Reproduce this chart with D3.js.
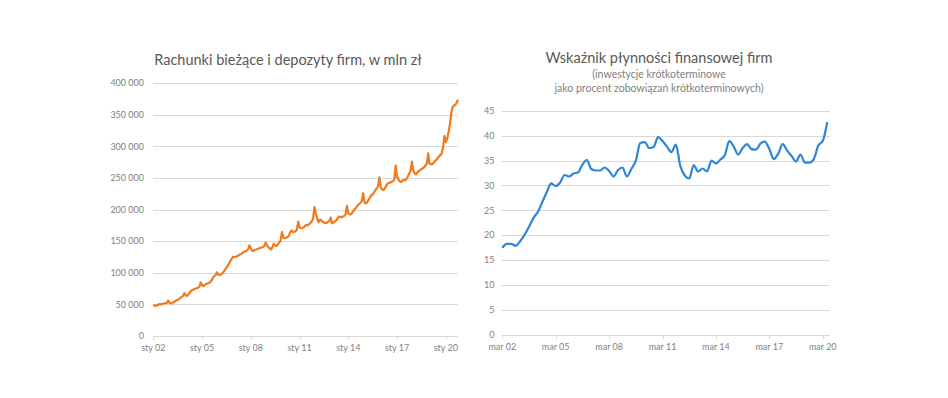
<!DOCTYPE html>
<meta charset="utf-8">
<style>

body {
  margin: 0;
  background: #fff;
}

text {
  font-family: Lato, "Liberation Sans", sans-serif;
}

.grid line {
  stroke: #d9d9d9;
  stroke-width: 1px;
}

.axis-label {
  fill: #7f7f7f;
  font-size: 9px;
}

.title {
  fill: #595959;
  font-size: 14.5px;
}

.subtitle {
  fill: #7f7f7f;
  font-size: 10.5px;
}

</style>
<body>
<script src="https://d3js.org/d3.v7.min.js"></script>
<script>

// Left chart: current accounts and deposits of firms, mln zł, monthly Jan 2002 - Oct 2020
var deposits = [
  49500, 48000, 47500, 49000, 50000, 50500, 50000, 51000, 51500, 52000, 52500, 56000,        // 2002
  52500, 51500, 52000, 53500, 55000, 56500, 57000, 58500, 60500, 62000, 63500, 68000,        // 2003
  64000, 63500, 66000, 69000, 71500, 73000, 74000, 75000, 75500, 76500, 78000, 85000,        // 2004
  80000, 79000, 81000, 82500, 83000, 84000, 85000, 88000, 92000, 95000, 96500, 101000,       // 2005
  97000, 96500, 97500, 99000, 102000, 105000, 108000, 111500, 115000, 119000, 122500, 125500, // 2006
  125000, 125500, 126500, 127500, 129000, 130000, 131500, 133000, 134000, 135000, 137000, 143500, // 2007
  139000, 135000, 134500, 136500, 137000, 138000, 138500, 139500, 140000, 141000, 142500, 148000, // 2008
  143500, 141000, 138500, 137000, 141000, 146000, 143000, 142500, 145000, 148500, 151000, 164500, // 2009
  156000, 155000, 155500, 156500, 158000, 164000, 167000, 164500, 165000, 166000, 168000, 181000, // 2010
  172000, 170500, 171000, 172000, 174000, 176000, 175000, 177000, 179000, 181000, 186000, 204000, // 2011
  194000, 186000, 180000, 183500, 184000, 180500, 180000, 178500, 179000, 181000, 182000, 187500, // 2012
  178500, 179500, 181500, 183000, 186000, 189000, 188500, 188000, 189000, 190000, 192500, 206000, // 2013
  194000, 192500, 193000, 195000, 199000, 201000, 204000, 207000, 209000, 211000, 214000, 226000, // 2014
  211000, 210000, 212000, 216000, 219000, 223000, 224000, 227000, 231000, 233500, 237000, 251000, // 2015
  235000, 232000, 231000, 234000, 238000, 241000, 242000, 243000, 244500, 245000, 247500, 270000, // 2016
  252000, 248000, 244500, 244000, 246000, 247000, 246500, 249000, 253000, 257000, 262000, 276000, // 2017
  262000, 257500, 256000, 259000, 261000, 262500, 264000, 265500, 267000, 270000, 273000, 289000, // 2018
  273000, 272000, 272000, 274000, 277000, 279000, 281500, 284000, 286500, 289000, 299000, 317000, // 2019
  307000, 312000, 322000, 335000, 352000, 362000, 365000, 366000, 369000, 374000                  // 2020
];
var depositTickMonths = [0, 36, 72, 108, 144, 180, 216];
var depositTickLabels = ["sty 02", "sty 05", "sty 08", "sty 11", "sty 14", "sty 17", "sty 20"];
var depositYTicks = [0, 50000, 100000, 150000, 200000, 250000, 300000, 350000, 400000];

// Right chart: liquidity ratio, quarterly Mar 2002 - Jun 2020
var liquidity = [
  17.5, 18.3, 18.3, 17.9, 18.8, 20.1, 21.7, 23.5, 24.7, 26.7,
  28.7, 30.4, 29.9, 30.6, 32.1, 31.8, 32.4, 32.6, 34.2, 35.1,
  33.3, 33.0, 33.0, 33.6, 32.9, 31.8, 33.1, 33.6, 31.8, 33.3,
  35.0, 38.5, 38.7, 37.5, 37.7, 39.7, 38.9, 37.8, 36.7, 38.2,
  33.9, 32.0, 31.4, 34.1, 32.8, 33.4, 32.8, 35.0, 34.4, 35.2,
  36.1, 38.9, 37.8, 36.2, 37.5, 38.3, 37.3, 37.2, 38.4, 38.8,
  37.3, 35.3, 36.4, 38.3, 37.0, 35.9, 34.8, 36.2, 34.6, 34.6,
  35.3, 38.0, 38.9, 42.7
];
var liquidityTickQuarters = [0, 12, 24, 36, 48, 60, 72];
var liquidityTickLabels = ["mar 02", "mar 05", "mar 08", "mar 11", "mar 14", "mar 17", "mar 20"];
var liquidityYTicks = [0, 5, 10, 15, 20, 25, 30, 35, 40, 45];

var width = 948,
    height = 398;

var svg = d3.select("body").append("svg")
    .attr("width", width)
    .attr("height", height);

var fmtSpace = function(v) {
  return d3.format(",")(v).replace(/,/g, " ");
};

function drawChart(opt) {
  var x = d3.scaleLinear().domain(opt.xDomain).range(opt.xRange),
      y = d3.scaleLinear().domain(opt.yDomain).range(opt.yRange);

  var g = svg.append("g");

  g.append("g")
      .attr("class", "grid")
    .selectAll("line")
    .data(opt.yTicks)
    .enter().append("line")
      .attr("x1", opt.gridX[0])
      .attr("x2", opt.gridX[1])
      .attr("y1", function(d) { return Math.round(y(d)) + 0.5; })
      .attr("y2", function(d) { return Math.round(y(d)) + 0.5; });

  g.selectAll(".ylab")
    .data(opt.yTicks)
    .enter().append("text")
      .attr("class", "axis-label")
      .attr("x", opt.gridX[0] - opt.labelGap)
      .attr("y", function(d) { return y(d); })
      .attr("dy", "0.35em")
      .attr("text-anchor", "end")
      .attr("xml:space", "preserve")
      .text(opt.yFormat);

  // tick marks below the baseline
  g.selectAll(".xtick")
    .data(opt.xTicks)
    .enter().append("line")
      .attr("x1", function(d) { return Math.round(x(d)) + 0.5; })
      .attr("x2", function(d) { return Math.round(x(d)) + 0.5; })
      .attr("y1", y(0))
      .attr("y2", y(0) + 4)
      .style("stroke", "#d9d9d9");

  g.selectAll(".xlab")
    .data(opt.xTicks)
    .enter().append("text")
      .attr("class", "axis-label")
      .attr("x", function(d) { return x(d); })
      .attr("y", y(0) + 15)
      .attr("text-anchor", "middle")
      .text(function(d, i) { return opt.xLabels[i]; });

  var line = d3.line()
      .x(function(d, i) { return x(i); })
      .y(function(d) { return y(d); })
      .curve(opt.curve);

  g.append("path")
      .datum(opt.values)
      .attr("d", line)
      .style("fill", "none")
      .style("stroke", opt.color)
      .style("stroke-width", 2.2)
      .style("stroke-linejoin", "round");

  return g;
}

var left = drawChart({
  values: deposits,
  xDomain: [0, deposits.length - 1],
  xRange: [153.3, 458],
  yDomain: [0, 400000],
  yRange: [336, 83.3],
  gridX: [153, 458],
  labelGap: 9,
  yTicks: depositYTicks,
  yFormat: fmtSpace,
  xTicks: depositTickMonths,
  xLabels: depositTickLabels,
  color: "#f07a1c",
  curve: d3.curveLinear
});

left.append("text")
    .attr("class", "title")
    .attr("x", 288)
    .attr("y", 65)
    .attr("text-anchor", "middle")
    .text("Rachunki bieżące i depozyty firm, w mln zł");

var right = drawChart({
  values: liquidity,
  xDomain: [0, liquidity.length - 1],
  xRange: [502.3, 827.2],
  yDomain: [0, 45],
  yRange: [335, 110.7],
  gridX: [501.5, 829.5],
  labelGap: 7,
  yTicks: liquidityYTicks,
  yFormat: function(d) { return d; },
  xTicks: liquidityTickQuarters,
  xLabels: liquidityTickLabels,
  color: "#2e86d4",
  curve: d3.curveMonotoneX
});

right.append("text")
    .attr("class", "title")
    .attr("x", 659)
    .attr("y", 63)
    .attr("text-anchor", "middle")
    .text("Wskaźnik płynności finansowej firm");

right.append("text")
    .attr("class", "subtitle")
    .attr("x", 659)
    .attr("y", 78)
    .attr("text-anchor", "middle")
    .text("(inwestycje krótkoterminowe");

right.append("text")
    .attr("class", "subtitle")
    .attr("x", 659)
    .attr("y", 92)
    .attr("text-anchor", "middle")
    .text("jako procent zobowiązań krótkoterminowych)");

</script>
